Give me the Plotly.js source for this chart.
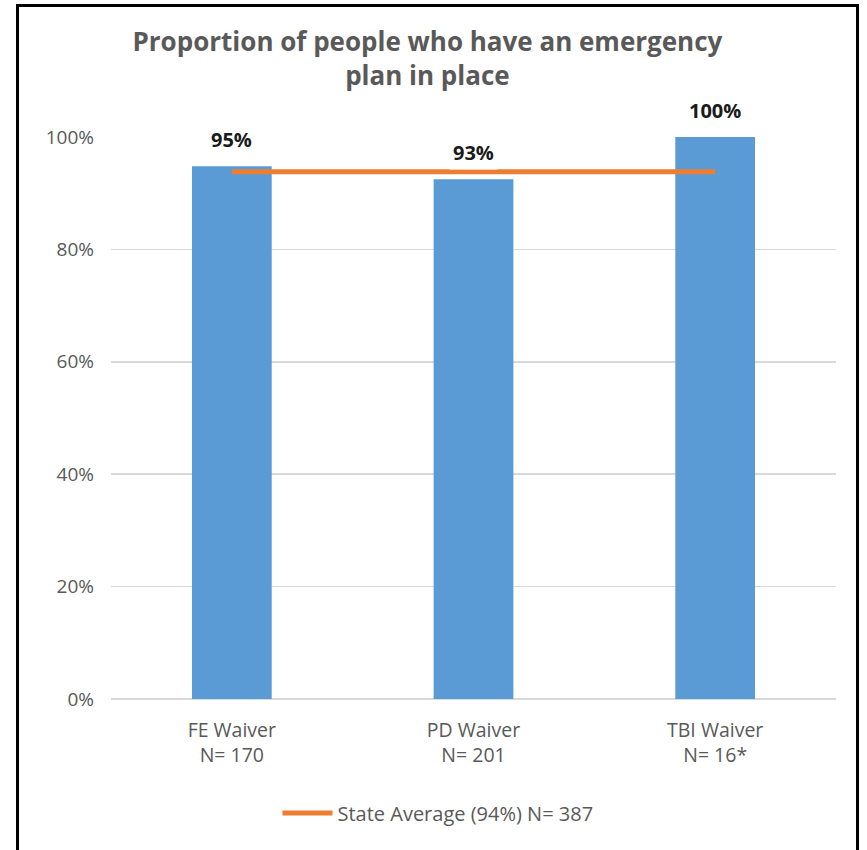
<!DOCTYPE html>
<html><head><meta charset="utf-8">
<script src="https://cdn.plot.ly/plotly-3.0.1.min.js"></script>
<style>
html,body{margin:0;padding:0;background:#fff;overflow:hidden;}
#frame{position:absolute;left:16px;top:4px;width:843px;height:870px;border:3px solid #000;box-sizing:border-box;pointer-events:none;z-index:5;}
#chart{position:absolute;left:0;top:0;width:867px;height:850px;}
</style></head>
<body>
<div id="chart"></div><div id="frame"></div>
<script>
const categories = ["FE Waiver<br>N= 170", "PD Waiver<br>N= 201", "TBI Waiver<br>N= 16*"];
const values = [0.948, 0.925, 1.0];
const valueLabels = ["95%", "93%", "100%"];
const stateAverage = [0.938, 0.938, 0.938];
const stateName = "State Average (94%) N= 387";
const tickVals = [0, 0.2, 0.4, 0.6, 0.8, 1.0];
const tickText = ["0%", "20%", "40%", "60%", "80%", "100%"];

const gray = "#595959";
const font = "Open Sans, sans-serif";
const traces = [
  {type:"bar", x:categories, y:values, marker:{color:"#5B9BD5"}, showlegend:false, hoverinfo:"skip"},
  {type:"scatter", mode:"lines", x:categories, y:stateAverage, name:stateName,
   line:{color:"#ED7D31", width:5}, hoverinfo:"skip"}
];
const annotations = values.map((v,i)=>({
  x:categories[i], y:v, xref:"x", yref:"y", text:valueLabels[i], showarrow:false,
  yanchor:"middle", yshift:27, bgcolor:"#fff", borderpad:3,
  font:{family:font, size:20, color:"#1a1a1a", weight:"bold"}
}));
const layout = {
  width:867, height:850,
  margin:{l:111, r:31, t:137, b:151},
  paper_bgcolor:"#fff", plot_bgcolor:"#fff",
  bargap:0.67,
  title:{text:"<b>Proportion of people who have an emergency<br>plan in place</b>",
    x:0.493, xanchor:"center", y:0.940, yanchor:"middle", yref:"container",
    font:{family:font, size:26, color:gray}},
  xaxis:{type:"category", showgrid:false, showline:false, ticks:"", ticklabelstandoff:17,
    tickfont:{family:font, size:19.5, color:gray}, automargin:false},
  yaxis:{range:[0,1.0], tickvals:tickVals, ticktext:tickText, showgrid:true,
    gridcolor:"#d9d9d9", gridwidth:1.5, zeroline:true, zerolinecolor:"#d9d9d9", zerolinewidth:1.5,
    showline:false, ticks:"", ticklen:0, ticklabelstandoff:16, tickfont:{family:font, size:19, color:gray},
    automargin:false, fixedrange:true},
  showlegend:true,
  legend:{orientation:"h", x:0.451, xanchor:"center", y:-0.203, yanchor:"middle",
    font:{family:font, size:20, color:gray}, itemwidth:50},
  annotations:annotations
};
Plotly.newPlot("chart", traces, layout, {displayModeBar:false, staticPlot:true});
</script>
</body></html>
